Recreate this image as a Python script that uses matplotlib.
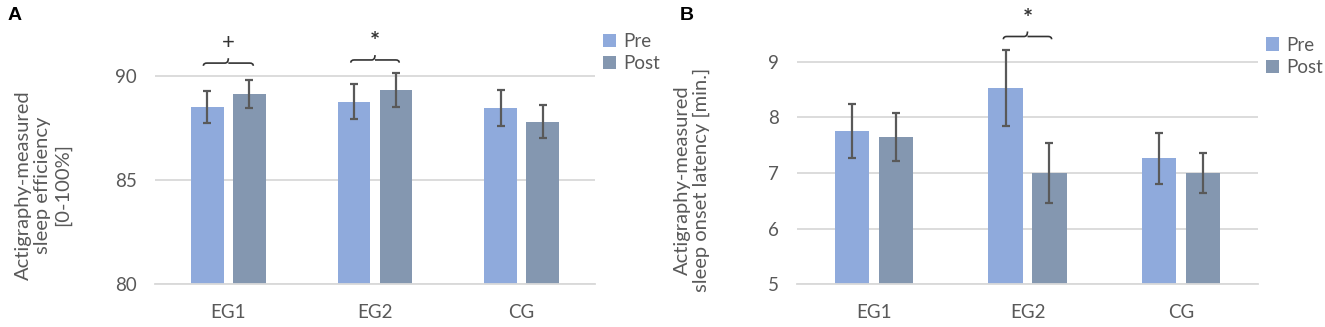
import matplotlib.pyplot as plt
import numpy as np
from matplotlib.path import Path
from matplotlib.patches import PathPatch

plt.rcParams['font.family'] = ['Lato', 'DejaVu Sans']

groups = ['EG1', 'EG2', 'CG']
series = ['Pre', 'Post']

eff_pre = [88.49, 88.74, 88.44]
eff_post = [89.12, 89.30, 87.80]
eff_pre_err = [0.76, 0.84, 0.87]
eff_post_err = [0.67, 0.82, 0.80]

lat_pre = [7.75, 8.52, 7.26]
lat_post = [7.65, 7.00, 7.00]
lat_pre_err = [0.49, 0.68, 0.455]
lat_post_err = [0.43, 0.54, 0.36]

pre_col = '#8FAADC'
post_col = '#8497B0'
txt_col = '#595959'
grid_col = '#D9D9D9'


def brace(ax, x0, x1, y, h):
    xm = (x0 + x1) / 2
    d = (x1 - x0) * 0.07
    verts = [(x0, y - h), (x0, y), (x0 + d, y),
             (xm - d, y), (xm, y), (xm, y + 1.8 * h),
             (xm, y), (xm + d, y),
             (x1 - d, y), (x1, y), (x1, y - h)]
    codes = [Path.MOVETO, Path.CURVE3, Path.CURVE3,
             Path.LINETO, Path.CURVE3, Path.CURVE3,
             Path.MOVETO, Path.CURVE3,
             Path.LINETO, Path.CURVE3, Path.CURVE3]
    ax.add_patch(PathPatch(Path(verts, codes), fc='none', ec='#333333',
                           lw=1.2, clip_on=False))


def panel(ax, pre, post, pre_err, post_err, ylim, ticks):
    x = np.arange(len(groups))
    w = 0.223
    off = 0.143
    ax.bar(x - off, pre, w, color=pre_col, label='Pre', zorder=2)
    ax.bar(x + off, post, w, color=post_col, label='Post', zorder=2)
    ax.errorbar(x - off, pre, yerr=pre_err, fmt='none', ecolor=txt_col,
                elinewidth=1.6, capsize=3, capthick=1.6, zorder=3,
                clip_on=False)
    ax.errorbar(x + off, post, yerr=post_err, fmt='none', ecolor=txt_col,
                elinewidth=1.6, capsize=3, capthick=1.6, zorder=3,
                clip_on=False)
    ax.set_ylim(*ylim)
    ax.set_xlim(-0.5, len(groups) - 0.5)
    ax.set_yticks(ticks)
    ax.set_xticks(x)
    ax.set_xticklabels(groups)
    ax.yaxis.grid(True, color=grid_col, lw=1.3, zorder=0)
    ax.set_axisbelow(True)
    for s in ['top', 'right', 'left']:
        ax.spines[s].set_visible(False)
    ax.spines['bottom'].set_color(grid_col)
    ax.spines['bottom'].set_linewidth(1.3)
    ax.tick_params(length=0, labelsize=13.5, labelcolor=txt_col)
    ax.tick_params(axis='y', pad=13)
    ax.tick_params(axis='x', pad=14)
    leg = ax.legend(loc='upper left', bbox_to_anchor=(1.0, 0.955), frameon=False,
                    fontsize=13.5, handlelength=0.7, handleheight=0.7,
                    handletextpad=0.4, labelspacing=0.3, borderaxespad=0)
    for t in leg.get_texts():
        t.set_color(txt_col)


fig = plt.figure(figsize=(13.25, 3.27), dpi=100)

axA = fig.add_axes([155 / 1325, 1 - 284.3 / 327, 440 / 1325, (284.3 - 13) / 327])
panel(axA, eff_pre, eff_post, eff_pre_err, eff_post_err, (80, 93), [80, 85, 90])
brace(axA, -0.17, 0.17, 90.6, 0.13)
axA.text(0, 91.55, '+', ha='center', va='center', fontsize=16, color='#333333')
brace(axA, 1 - 0.165, 1 + 0.165, 90.75, 0.13)
axA.text(1, 91.6, '*', ha='center', va='center', fontsize=17, color='#333333',
         fontweight='bold')

axB = fig.add_axes([797 / 1325, 1 - 284.3 / 327, 461 / 1325, (284.3 - 17) / 327])
panel(axB, lat_pre, lat_post, lat_pre_err, lat_post_err, (5, 9.8), [5, 6, 7, 8, 9])
brace(axB, 1 - 0.157, 1 + 0.157, 9.45, 0.05)
axB.text(1, 9.75, '*', ha='center', va='center', fontsize=17, color='#333333',
         fontweight='bold', clip_on=False)

fig.text(43 / 1325, 1 - 185 / 327,
         'Actigraphy-measured\nsleep efficiency\n[0-100%]',
         rotation=90, ha='center', va='center', fontsize=14.5, color=txt_col,
         linespacing=1.15)
fig.text(692 / 1325, 1 - 180 / 327,
         'Actigraphy-measured\nsleep onset latency [min.]',
         rotation=90, ha='center', va='center', fontsize=14.5, color=txt_col,
         linespacing=1.15)

fig.text(8 / 1325, 1 - 16 / 327, 'A', fontsize=14, fontweight='bold',
         family='Liberation Sans', va='center')
fig.text(680 / 1325, 1 - 16 / 327, 'B', fontsize=14, fontweight='bold',
         family='Liberation Sans', va='center')

fig.savefig('out.png', dpi=100)
